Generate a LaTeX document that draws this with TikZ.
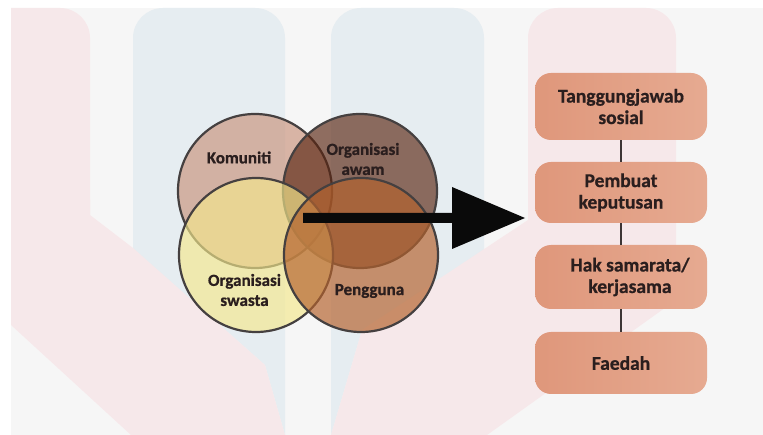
\documentclass[tikz,border=0pt]{standalone}
\usepackage{fontspec}
\setmainfont{Carlito}[BoldFeatures={FakeBold=0.7}]
\usetikzlibrary{calc}
\definecolor{bggray}{HTML}{F6F6F6}
\definecolor{wmpink}{HTML}{F6E8EA}
\definecolor{wmblue}{HTML}{E6EDF1}
\definecolor{komc}{RGB}{197,137,112}
\definecolor{awamc}{RGB}{89,36,16}
\definecolor{swac}{RGB}{244,232,140}
\definecolor{pengc}{RGB}{180,98,45}
\definecolor{ringc}{HTML}{454040}
\definecolor{txtc}{HTML}{2A1E1E}
\definecolor{boxl}{HTML}{DF977B}
\definecolor{boxr}{HTML}{E6AA91}
\definecolor{linec}{HTML}{3D3535}
\definecolor{arrowc}{HTML}{0A0A0A}
\begin{document}
\begin{tikzpicture}[x=1pt,y=-1pt,
  venn/.style={circle, minimum size=154pt, inner sep=0pt, draw=ringc, line width=2.2pt},
  vlabel/.style={text=txtc, font=\fontsize{17}{20}\selectfont\bfseries, align=center, inner sep=0pt},
  stepbox/.style={rounded corners=16pt, left color=boxl, right color=boxr, minimum width=172pt, text=txtc, font=\fontsize{19.5}{21.5}\selectfont\bfseries, align=center, inner sep=0pt, execute at begin node={\vspace*{5pt}}},
  link/.style={draw=linec, line width=1.8pt}
]
\useasboundingbox (0,0) rectangle (763,435);
\fill[white] (0,0) rectangle (763,435);
\fill[bggray] (11,8) rectangle (763,435);
% watermark
\begin{scope}
\clip (11,8) rectangle (763,435);
\fill[wmblue, rounded corners=30pt] (133,8) rectangle (285,300);
\fill[wmblue] (133,200) -- (285,200) -- (285,435) -- (265,365) -- (133,248) -- cycle;
\fill[wmblue, rounded corners=30pt] (331,8) rectangle (484,260);
\fill[wmblue] (331,200) -- (484,200) -- (484,250) -- (362,330) -- (331,435) -- cycle;
\fill[wmpink, rounded corners=30pt] (-70,8) rectangle (90,300);
\fill[wmpink] (11,200) -- (90,200) -- (90,215) -- (133,248) -- (265,365) -- (285,435) -- (131,435) -- (11,325) -- cycle;
\fill[wmpink, rounded corners=30pt] (528,8) rectangle (676,250);
\fill[wmpink] (528,200) -- (676,200) -- (676,300) -- (487,435) -- (331,435) -- (362,330) -- (528,220) -- cycle;
\end{scope}
% Venn circles
\node[venn, fill=komc, fill opacity=0.6] (kom) at (255,191) {};
\node[venn, fill=awamc, fill opacity=0.65] (awam) at (360,191) {};
\node[venn, fill=swac, fill opacity=0.65] (swa) at (256,255) {};
\node[venn, fill=pengc, fill opacity=0.68] (peng) at (361,255) {};
% labels
\node[vlabel] (lkom) at (239,157.5) {Komuniti};
\node[vlabel] (lawam) at (363,159) {Organisasi\\awam};
\node[vlabel] (lswa) at (244.5,290) {Organisasi\\swasta};
\node[vlabel] (lpeng) at (369.5,291) {Pengguna};
% arrow
\coordinate (arrs) at (303,218);
\coordinate (arrt) at (525,218);
\fill[arrowc] ($(arrs)+(0,-5)$) -- ($(arrt)+(-73,-5)$) -- ($(arrt)+(-73,-31)$) -- (arrt) -- ($(arrt)+(-73,31)$) -- ($(arrt)+(-73,5)$) -- ($(arrs)+(0,5)$) -- cycle;
% boxes
\node[stepbox, minimum height=67pt] (b1) at (621,106.5) {Tanggungjawab\\sosial};
\node[stepbox, minimum height=61pt] (b2) at (621,192.5) {Pembuat\\keputusan};
\node[stepbox, minimum height=64pt] (b3) at (621,277) {\hspace*{18pt}Hak samarata/\\\hspace*{18pt}kerjasama};
\node[stepbox, minimum height=62pt] (b4) at (621,363) {Faedah};
\draw[link] (b1) -- (b2);
\draw[link] (b2) -- (b3);
\draw[link] (b3) -- (b4);
\end{tikzpicture}
\end{document}
